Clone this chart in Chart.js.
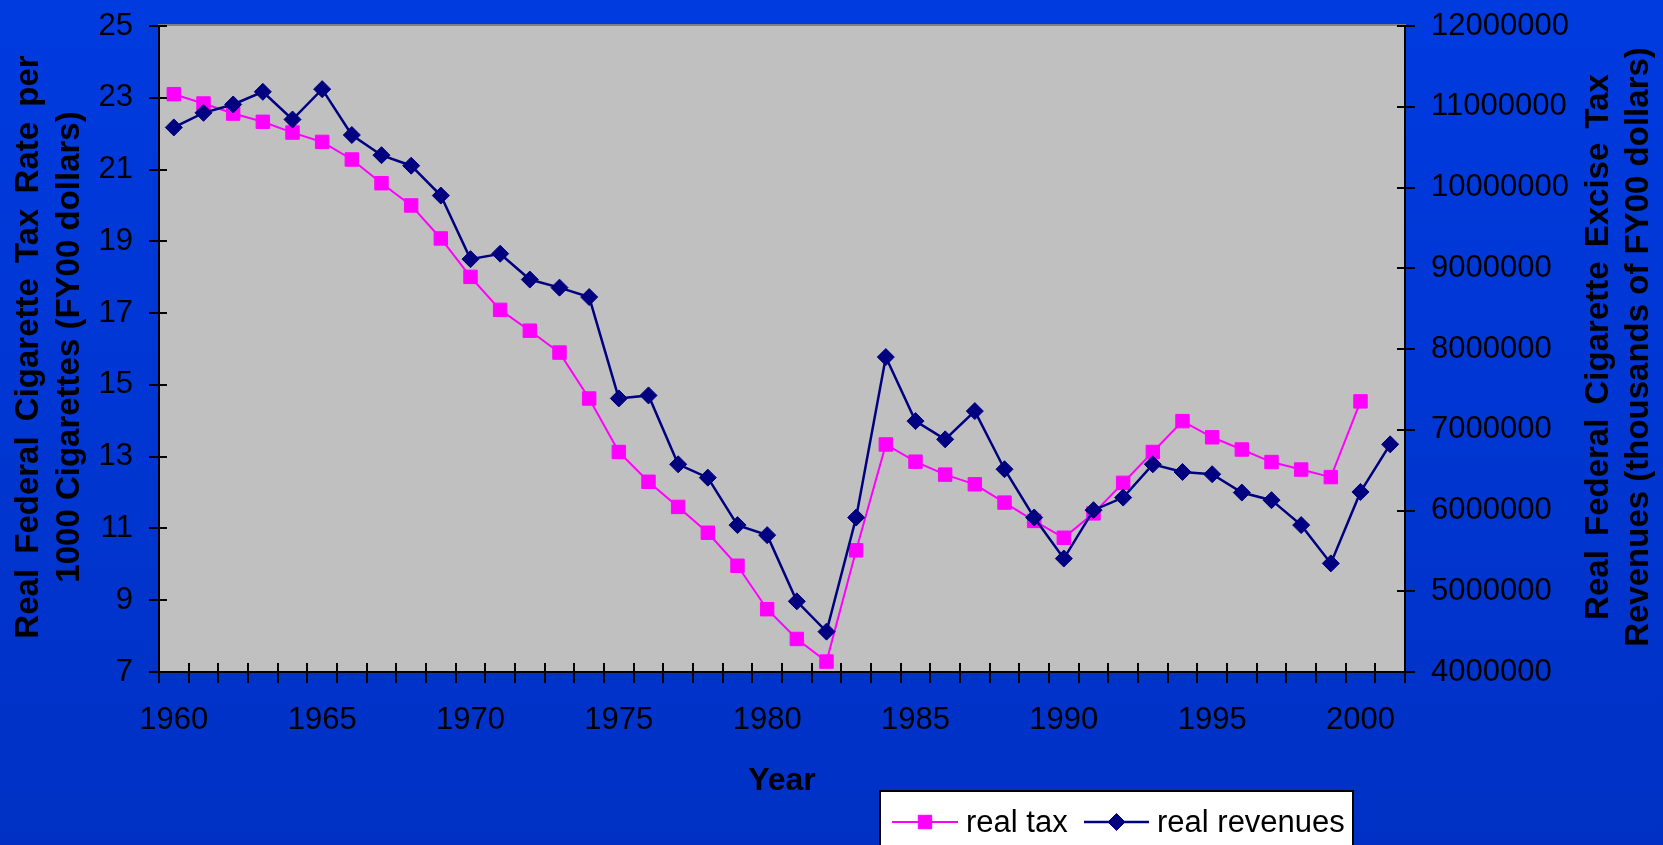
<!DOCTYPE html>
<html>
<head>
<meta charset="utf-8">
<title>Real Federal Cigarette Tax and Revenues</title>
<script src="https://cdn.jsdelivr.net/npm/chart.js@4.4.1/dist/chart.umd.min.js"></script>
<style>
  html, body { margin: 0; padding: 0; background: #0036d4; overflow: hidden; }
  #wrap { width: 1663px; height: 845px; position: relative; }
</style>
</head>
<body>
<div id="wrap"><canvas id="chart"></canvas></div>
<script>
// Fiscal years on the category axis
const years = ['1960','1961','1962','1963','1964','1965','1966','1967','1968','1969',
               '1970','1971','1972','1973','1974','1975','1976','1977','1978','1979',
               '1980','1981','1982','1983','1984','1985','1986','1987','1988','1989',
               '1990','1991','1992','1993','1994','1995','1996','1997','1998','1999',
               '2000','2001'];

// Real federal tax per 1000 cigarettes (FY00 dollars), left axis
const realTax = [23.10, 22.84, 22.56, 22.33, 22.03, 21.77, 21.28, 20.62, 20.00, 19.08,
                 18.01, 17.09, 16.51, 15.90, 14.62, 13.13, 12.30, 11.60, 10.88, 9.96,
                 8.75, 7.92, 7.29, 10.39, 13.34, 12.86, 12.50, 12.23, 11.72, 11.21,
                 10.74, 11.42, 12.27, 13.13, 13.99, 13.54, 13.20, 12.85, 12.64, 12.43,
                 14.54, null];

// Real federal excise revenues (thousands of FY00 dollars), right axis
const realRevenues = [10744000, 10925000, 11028000, 11185000, 10842000, 11218000, 10650000, 10400000, 10270000, 9900000,
                      9113000, 9180000, 8860000, 8760000, 8643000, 7388000, 7425000, 6572000, 6407000, 5819000,
                      5695000, 4875000, 4500000, 5913000, 7900000, 7107000, 6881000, 7231000, 6511000, 5913000,
                      5405000, 6004000, 6160000, 6572000, 6477000, 6449000, 6222000, 6128000, 5819000, 5345000,
                      6230000, 6819000];

// Year labels printed under the axis
const yearTickLabels = ['1960','1965','1970','1975','1980','1985','1990','1995','2000'];

const leftTitle = ['Real Federal Cigarette Tax Rate per', '1000 Cigarettes (FY00 dollars)'];
const rightTitle = ['Real Federal Cigarette Excise Tax', 'Revenues (thousands of FY00 dollars)'];
const xTitle = 'Year';

const FONT = '"Liberation Sans", Arial, Helvetica, sans-serif';
Chart.defaults.font.family = FONT;
Chart.defaults.color = '#000';

// Blue slide backdrop, silver plot area with a grey frame
const backdrop = {
  id: 'backdrop',
  beforeDraw(chart) {
    const { ctx, chartArea: a, width, height } = chart;
    ctx.save();
    const g = ctx.createLinearGradient(0, 0, 0, height);
    g.addColorStop(0, '#003be0');
    g.addColorStop(1, '#0031c4');
    ctx.fillStyle = g;
    ctx.fillRect(0, 0, width, height);
    ctx.fillStyle = '#c0c0c0';
    ctx.fillRect(a.left, a.top, a.right - a.left, a.bottom - a.top);
    ctx.strokeStyle = '#808080';
    ctx.lineWidth = 2;
    ctx.strokeRect(a.left, a.top - 1, a.right - a.left, a.bottom - a.top + 1);
    ctx.restore();
  }
};

// Tick marks that cross each axis line
const crossTicks = {
  id: 'crossTicks',
  afterDatasetsDraw(chart) {
    const { ctx, chartArea: a, scales } = chart;
    ctx.save();
    ctx.strokeStyle = '#000';
    ctx.lineWidth = 2;
    ctx.beginPath();
    const y = scales.y;
    y.ticks.forEach((t, i) => {
      const py = Math.round(y.getPixelForTick(i));
      ctx.moveTo(a.left - 10, py); ctx.lineTo(a.left + 8, py);
    });
    const y1 = scales.y1;
    y1.ticks.forEach((t, i) => {
      const py = Math.round(y1.getPixelForTick(i));
      ctx.moveTo(a.right - 8, py); ctx.lineTo(a.right + 10, py);
    });
    const x = scales.x;
    const step = x.getPixelForTick(1) - x.getPixelForTick(0);
    const start = x.getPixelForTick(0) - step / 2;
    for (let i = 0; i <= x.ticks.length; i++) {
      const px = Math.round(start + i * step);
      ctx.moveTo(px, a.bottom - 9); ctx.lineTo(px, a.bottom + 11);
    }
    ctx.stroke();
    ctx.restore();
  }
};

// Axis titles (both vertical titles read bottom-to-top)
const axisTitles = {
  id: 'axisTitles',
  afterDraw(chart) {
    const { ctx, chartArea: a } = chart;
    const midY = (a.top + a.bottom) / 2 - 2;
    ctx.save();
    ctx.fillStyle = '#000';
    ctx.font = 'bold 33px ' + FONT;
    ctx.textAlign = 'center';
    ctx.textBaseline = 'alphabetic';

    ctx.save();
    ctx.translate(37.5, midY);
    ctx.rotate(-Math.PI / 2);
    if ('wordSpacing' in ctx) ctx.wordSpacing = '6px';
    ctx.fillText(leftTitle[0], 0, 0);
    if ('wordSpacing' in ctx) ctx.wordSpacing = '0px';
    ctx.fillText(leftTitle[1], 0, 41);
    ctx.restore();

    ctx.save();
    ctx.translate(1608, midY);
    ctx.rotate(-Math.PI / 2);
    if ('wordSpacing' in ctx) ctx.wordSpacing = '5px';
    ctx.fillText(rightTitle[0], 0, 0);
    if ('wordSpacing' in ctx) ctx.wordSpacing = '0px';
    ctx.fillText(rightTitle[1], 0, 40);
    ctx.restore();

    ctx.font = 'bold 32px ' + FONT;
    ctx.fillText(xTitle, (a.left + a.right) / 2, 790);
    ctx.restore();
  }
};

// Boxed legend below the plot
const boxLegend = {
  id: 'boxLegend',
  afterDraw(chart) {
    const { ctx } = chart;
    const ds = chart.data.datasets;
    const box = { x: 880, y: 791, w: 473, h: 70 };
    const cy = 822;
    const items = [
      { lineX: 892, lineW: 66, textX: 966 },
      { lineX: 1084, lineW: 65, textX: 1157 }
    ];
    ctx.save();
    ctx.fillStyle = '#fff';
    ctx.fillRect(box.x, box.y, box.w, box.h);
    ctx.strokeStyle = '#000';
    ctx.lineWidth = 2;
    ctx.strokeRect(box.x, box.y, box.w, box.h);
    ds.forEach((d, i) => {
      const it = items[i];
      ctx.strokeStyle = d.borderColor;
      ctx.lineWidth = d.borderWidth;
      ctx.beginPath();
      ctx.moveTo(it.lineX, cy); ctx.lineTo(it.lineX + it.lineW, cy);
      ctx.stroke();
      ctx.fillStyle = d.pointBackgroundColor;
      ctx.strokeStyle = d.pointBorderColor;
      ctx.lineWidth = d.pointBorderWidth;
      Chart.helpers.drawPoint(ctx, {
        pointStyle: d.pointStyle, radius: d.pointRadius, borderWidth: d.pointBorderWidth, rotation: 0
      }, it.lineX + it.lineW / 2, cy);
      ctx.fillStyle = '#000';
      ctx.font = '31px ' + FONT;
      ctx.textAlign = 'left';
      ctx.textBaseline = 'alphabetic';
      ctx.fillText(d.label, it.textX, 832);
    });
    ctx.restore();
  }
};

// Vertical axes: fixed box width, no extra label overhang above/below the plot
function fixVertical(width) {
  return function (s) {
    s.width = width;
    s.paddingTop = 0;
    s.paddingBottom = 0;
  };
}

new Chart(document.getElementById('chart'), {
  type: 'line',
  data: {
    labels: years,
    datasets: [
      {
        label: 'real tax',
        data: realTax,
        yAxisID: 'y',
        borderColor: '#ff00ff',
        backgroundColor: '#ff00ff',
        borderWidth: 2,
        pointStyle: 'rect',
        pointRadius: 9.5,
        pointBorderWidth: 1,
        pointBackgroundColor: '#ff00ff',
        pointBorderColor: '#ff00ff',
        tension: 0,
        order: 2
      },
      {
        label: 'real revenues',
        data: realRevenues,
        yAxisID: 'y1',
        borderColor: '#000080',
        backgroundColor: '#000080',
        borderWidth: 2.5,
        pointStyle: 'rectRot',
        pointRadius: 8.5,
        pointBorderWidth: 1,
        pointBackgroundColor: '#000080',
        pointBorderColor: '#000080',
        tension: 0,
        order: 1
      }
    ]
  },
  options: {
    responsive: true,
    maintainAspectRatio: false,
    animation: false,
    devicePixelRatio: 1,
    layout: { padding: { top: 26, left: 0, right: 0, bottom: 0 } },
    plugins: {
      legend: { display: false },
      tooltip: { enabled: false },
      title: { display: false }
    },
    scales: {
      x: {
        type: 'category',
        offset: true,
        grid: { display: false, offset: true },
        border: { display: true, color: '#000', width: 2 },
        ticks: {
          autoSkip: false,
          maxRotation: 0,
          minRotation: 0,
          padding: 22,
          font: { size: 31 },
          color: '#000',
          callback: function (v, i) {
            const yr = years[i];
            return yearTickLabels.includes(yr) ? yr : '';
          }
        },
        afterFit(s) { s.height = 173; s.paddingLeft = 0; s.paddingRight = 0; }
      },
      y: {
        position: 'left',
        min: 7,
        max: 25,
        grid: { display: false },
        border: { display: true, color: '#000', width: 2 },
        ticks: {
          stepSize: 2,
          padding: 18,
          font: { size: 31 },
          color: '#000',
          callback: v => String(v)
        },
        afterFit: fixVertical(159)
      },
      y1: {
        position: 'right',
        min: 4000000,
        max: 12000000,
        grid: { display: false },
        border: { display: true, color: '#000', width: 2 },
        ticks: {
          stepSize: 1000000,
          padding: 18,
          font: { size: 31 },
          color: '#000',
          callback: v => String(v)
        },
        afterFit: fixVertical(258)
      }
    }
  },
  plugins: [backdrop, crossTicks, axisTitles, boxLegend]
});
</script>
</body>
</html>
